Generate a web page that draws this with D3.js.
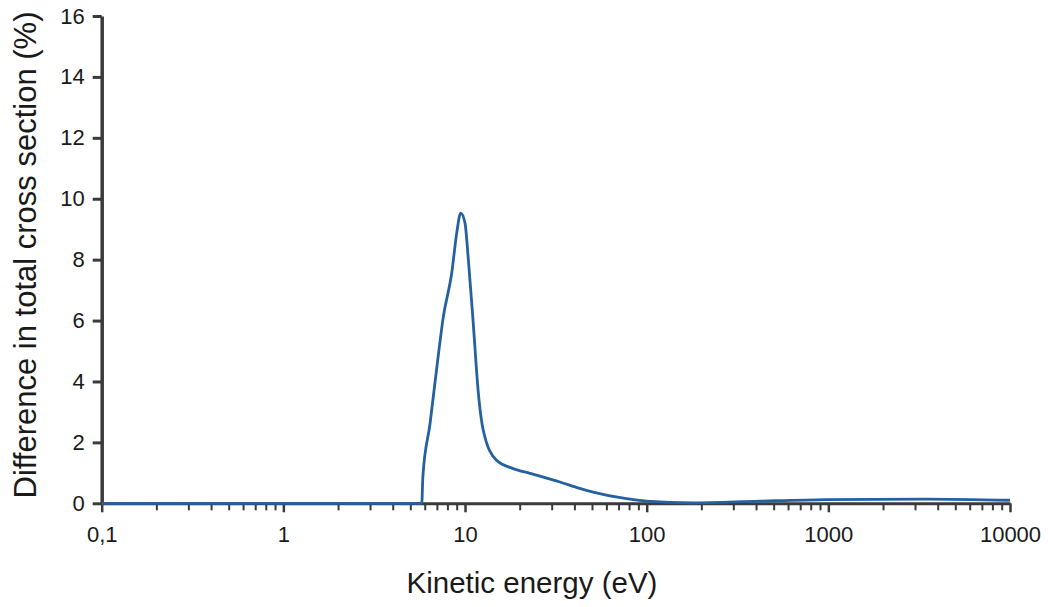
<!DOCTYPE html>
<html><head><meta charset="utf-8">
<script src="https://cdn.jsdelivr.net/npm/d3@7"></script>
<style>
html,body{margin:0;padding:0;background:#fff;}
svg text{font-family:"Liberation Sans",Arial,sans-serif;}
</style></head>
<body><svg id="c" width="1048" height="607"></svg>
<script>
// Data
const energy = [0.1, 1, 5.78, 5.86, 6.42, 7.0, 7.6, 8.45, 9.0, 9.47, 10.0, 10.4, 11.1, 11.8, 12.6, 14.9, 18.4, 22.8, 33.3, 42.8, 50.7, 77.3, 99.6, 180, 418, 971, 3440, 10000];
const diff   = [0,   0, 0,    0.87, 2.62, 4.48, 6.13, 7.56, 8.87, 9.53, 9.2,  8.1,  5.91, 3.72, 2.40, 1.41, 1.14, 0.98, 0.70, 0.49, 0.37, 0.15, 0.07, 0.01, 0.07, 0.12, 0.14, 0.10];
const xTickValues = [0.1, 1, 10, 100, 1000, 10000];
const xTickLabels = ["0,1", "1", "10", "100", "1000", "10000"];
const yTickValues = [0, 2, 4, 6, 8, 10, 12, 14, 16];
const xTitle = "Kinetic energy (eV)";
const yTitle = "Difference in total cross section (%)";

const svg = d3.select("#c");
const x = d3.scaleLog().domain([0.1, 10000]).range([101.7, 1010]);
const y = d3.scaleLinear().domain([0, 16]).range([503.3, 16]);
const axisColor = "#3a3a3a";

// minor x ticks
const minor = [];
for (let d = 0.1; d < 10000; d *= 10) for (let k = 2; k <= 9; k++) minor.push(d * k);

const gMinor = svg.append("g").attr("transform", `translate(0,${y(0)})`)
  .call(d3.axisBottom(x).tickValues(minor).tickSize(7).tickSizeOuter(0).tickFormat(""));
gMinor.select(".domain").remove();
gMinor.selectAll(".tick line").attr("stroke", axisColor).attr("stroke-width", 2);

const gx = svg.append("g").attr("transform", `translate(0,${y(0)})`)
  .call(d3.axisBottom(x).tickValues(xTickValues).tickSize(9).tickSizeOuter(0)
    .tickFormat((d, i) => xTickLabels[i]).tickPadding(14));
gx.select(".domain").attr("stroke", axisColor).attr("stroke-width", 3);
gx.selectAll(".tick line").attr("stroke", axisColor).attr("stroke-width", 2.5);
gx.selectAll(".tick text").attr("font-size", 22).attr("fill", "#1a1a1a")
  .attr("font-family", "Liberation Sans, Arial, sans-serif");

const gy = svg.append("g").attr("transform", `translate(${x(0.1)},0)`)
  .call(d3.axisLeft(y).tickValues(yTickValues).tickSize(9).tickSizeOuter(0).tickPadding(8));
gy.select(".domain").attr("stroke", axisColor).attr("stroke-width", 3.5);
gy.selectAll(".tick line").attr("stroke", axisColor).attr("stroke-width", 3);
gy.selectAll(".tick text").attr("font-size", 22).attr("fill", "#1a1a1a")
  .attr("font-family", "Liberation Sans, Arial, sans-serif");

// curve
const pts = energy.map((e, i) => [e, diff[i]]);
svg.append("path").datum(pts)
  .attr("fill", "none").attr("stroke", "#2560a0").attr("stroke-width", 2.8)
  .attr("stroke-linejoin", "round")
  .attr("d", d3.line().x(d => x(d[0])).y(d => y(d[1])).curve(d3.curveMonotoneX));

// titles
svg.append("text").attr("x", 532).attr("y", 593).attr("text-anchor", "middle")
  .attr("font-size", 29.5).attr("fill", "#1a1a1a").text(xTitle);
svg.append("text").attr("transform", "translate(36,255) rotate(-90)").attr("text-anchor", "middle")
  .attr("font-size", 31).attr("fill", "#1a1a1a").text(yTitle);
</script></body></html>
